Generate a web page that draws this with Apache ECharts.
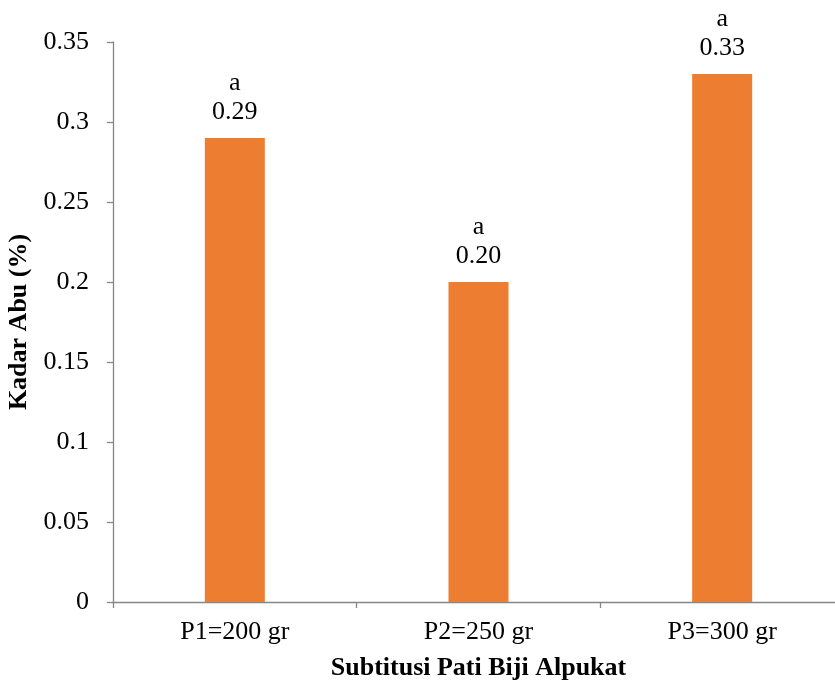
<!DOCTYPE html>
<html><head><meta charset="utf-8">
<script src="https://cdn.jsdelivr.net/npm/echarts@6/dist/echarts.min.js"></script>
<style>html,body{margin:0;padding:0;background:#fff}#c{width:835px;height:684px}</style>
</head><body><div id="c"></div>
<script>
const categories = ["P1=200 gr", "P2=250 gr", "P3=300 gr"];
const values = [0.29, 0.20, 0.33];
const letters = ["a", "a", "a"];
const yTicks = { min: 0, max: 0.35, interval: 0.05 };

const chart = echarts.init(document.getElementById('c'));
const font = '"Liberation Serif", "Times New Roman", serif';
const axisColor = '#868686';
chart.setOption({
  animation: false,
  grid: { left: 113, right: -9, top: 42, bottom: 82, containLabel: false, outerBoundsMode: 'none' },
  xAxis: {
    type: 'category', data: categories,
    name: 'Subtitusi Pati Biji Alpukat', nameLocation: 'middle', nameGap: 53,
    nameTextStyle: { fontFamily: font, fontSize: 26, fontWeight: 'bold', color: '#000' },
    axisLine: { lineStyle: { color: axisColor, width: 1.3 } },
    axisTick: { show: true, length: 6, lineStyle: { color: axisColor, width: 1.3 } },
    axisLabel: { fontFamily: font, fontSize: 26, color: '#000', margin: 17 }
  },
  yAxis: {
    type: 'value', min: yTicks.min, max: yTicks.max, interval: yTicks.interval,
    name: 'Kadar Abu (%)', nameLocation: 'middle', nameGap: 78, nameRotate: 90,
    nameTextStyle: { fontFamily: font, fontSize: 26, fontWeight: 'bold', color: '#000' },
    axisLine: { show: true, lineStyle: { color: axisColor, width: 1.3 } },
    axisTick: { show: true, length: 6, lineStyle: { color: axisColor, width: 1.3 } },
    splitLine: { show: false },
    axisLabel: { fontFamily: font, fontSize: 26, color: '#000', margin: 24 }
  },
  series: [{
    type: 'bar', data: values, barWidth: 60,
    itemStyle: { color: '#ED7D31' },
    label: {
      show: true, position: 'top', distance: 11,
      fontFamily: font, fontSize: 26, color: '#000', lineHeight: 29, align: 'center',
      formatter: p => letters[p.dataIndex] + '\n' + p.value.toFixed(2)
    }
  }]
});
</script></body></html>
